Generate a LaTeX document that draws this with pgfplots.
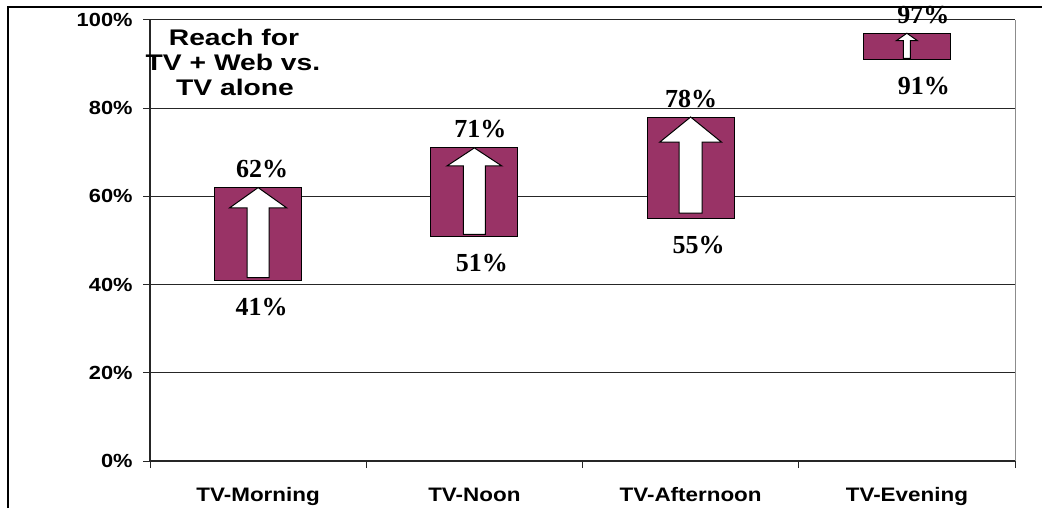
\documentclass[border=0pt]{standalone}
\usepackage{fontspec}
\setmainfont{Liberation Sans}[FakeStretch=1.15]
\newfontfamily\titlefont{Liberation Sans}[FakeStretch=1.25]
\newfontfamily\valuefont{Liberation Serif}
\usepackage{pgfplots}
\usepackage{pgfplotstable}
\pgfplotsset{compat=1.18}
\definecolor{plum}{RGB}{153,51,102}

% reach of TV alone (lo) and TV + Web (hi); label x positions for top/bottom values
\pgfplotstableread{
x lo hi ltx lbx
0 41 62 0.018 0.016
1 51 71 0.028 0.035
2 55 78 0.002 0.037
3 91 97 0.076 0.078
}\reachdata

\begin{document}
\begin{tikzpicture}
\useasboundingbox (0,0) rectangle (521pt,254pt);
\begin{axis}[
  at={(75pt,23.5pt)}, anchor=south west,
  scale only axis, width=432.5pt, height=220.5pt,
  xmin=-0.5, xmax=3.5, ymin=0, ymax=100,
  clip=false,
  axis x line*=bottom, axis y line*=left,
  axis line style={line width=0.6pt, black!85},
  tick align=outside,
  xtick={-0.5,0.5,1.5,2.5,3.5}, xticklabels={},
  major tick length=3.5pt,
  extra x ticks={0,1,2,3},
  extra x tick labels={TV-Morning,TV-Noon,TV-Afternoon,TV-Evening},
  extra x tick style={major tick length=0pt,
    xticklabel style={font=\bfseries\fontsize{9.75}{12}\selectfont, anchor=base, yshift=-20pt}},
  ytick={0,20,...,100},
  yticklabels={0\%,20\%,40\%,60\%,80\%,100\%},
  yticklabel style={font=\bfseries\fontsize{9.5}{11}\selectfont, anchor=east, inner sep=0pt, xshift=-5pt},
  tick style={black!85, line width=0.5pt},
  ymajorgrids, major grid style={black!85, line width=0.5pt},
]
% plot-area border on the right
\draw[black!45, line width=0.5pt] (rel axis cs:1,0) -- (rel axis cs:1,1);

% boxes spanning TV alone -> TV + Web
\addplot[fill=plum, draw=black, line width=0.5pt] coordinates {(-0.201,41) (0.201,41) (0.201,62) (-0.201,62)} -- cycle;
\addplot[fill=plum, draw=black, line width=0.5pt] coordinates {(0.799,51) (1.201,51) (1.201,71) (0.799,71)} -- cycle;
\addplot[fill=plum, draw=black, line width=0.5pt] coordinates {(1.799,55) (2.201,55) (2.201,78) (1.799,78)} -- cycle;
\addplot[fill=plum, draw=black, line width=0.5pt] coordinates {(2.799,91) (3.201,91) (3.201,97) (2.799,97)} -- cycle;

% white block arrows inside the boxes
\addplot[fill=white, draw=black, line width=0.5pt] coordinates {
  (-0.051,41.6) (0.051,41.6) (0.051,57.4) (0.132,57.4) (0,62) (-0.132,57.4) (-0.051,57.4)} -- cycle;
\addplot[fill=white, draw=black, line width=0.5pt] coordinates {
  (0.949,51.4) (1.051,51.4) (1.051,66.9) (1.127,66.9) (1,71) (0.873,66.9) (0.949,66.9)} -- cycle;
\addplot[fill=white, draw=black, line width=0.5pt] coordinates {
  (1.947,56.2) (2.053,56.2) (2.053,72.3) (2.143,72.3) (2,78) (1.857,72.3) (1.947,72.3)} -- cycle;
\addplot[fill=white, draw=black, line width=0.5pt] coordinates {
  (2.984,91.3) (3.016,91.3) (3.016,95.3) (3.049,95.3) (3,97) (2.951,95.3) (2.984,95.3)} -- cycle;

% value labels
\addplot[draw=none, mark=none, point meta=explicit symbolic,
  nodes near coords={\valuefont\bfseries\fontsize{13}{15}\selectfont\pgfplotspointmeta\%},
  every node near coord/.append style={anchor=base, inner sep=0pt, yshift=5pt}]
  table[x expr=\thisrow{x}+\thisrow{ltx}, y=hi, meta=hi] {\reachdata};
\addplot[draw=none, mark=none, point meta=explicit symbolic,
  nodes near coords={\valuefont\bfseries\fontsize{13}{15}\selectfont\pgfplotspointmeta\%},
  every node near coord/.append style={anchor=base, inner sep=0pt, yshift=-17.5pt}]
  table[x expr=\thisrow{x}+\thisrow{lbx}, y=lo, meta=lo] {\reachdata};
\end{axis}

% chart title
\begin{scope}[every node/.style={anchor=base, font=\titlefont\bfseries\fontsize{11.3}{13}\selectfont}]
\node at (117pt,231.2pt) {Reach for};
\node at (116.5pt,218.7pt) {TV + Web vs.};
\node at (117.5pt,206pt) {TV alone};
\end{scope}

% chart-area frame
\draw[line width=1pt] (4pt,0) -- (4pt,250.5pt) -- (521pt,250.5pt);
\end{tikzpicture}
\end{document}
